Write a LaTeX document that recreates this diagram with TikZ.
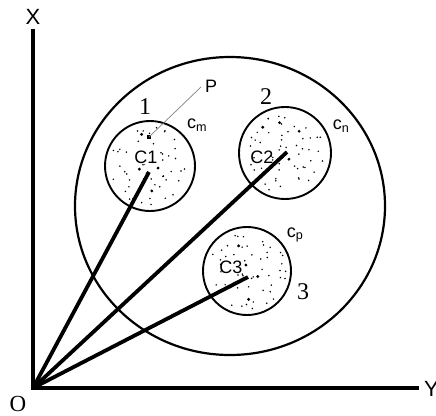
\documentclass[tikz,border=0pt]{standalone}
\usepackage{fontspec}
\setmainfont{Liberation Sans}
\newfontfamily\serifnum{Liberation Serif}
\usetikzlibrary{calc}
\begin{document}
\begin{tikzpicture}[x=1pt,y=-1pt,
  axis/.style={line width=4pt},
  ray/.style={line width=3.8pt},
  cluster/.style={line width=1.9pt},
  lbl/.style={inner sep=0pt,font=\fontsize{18}{18}\selectfont},
  numlbl/.style={inner sep=0pt,font=\serifnum\fontsize{24}{24}\selectfont},
  axlbl/.style={inner sep=0pt,font=\fontsize{22}{22}\selectfont},
  sdot/.style={fill=black,draw=none}]
\useasboundingbox (0,0) rectangle (436,415);
% axes
\coordinate (o) at (33,388);
\coordinate (xtop) at (33,31);
\coordinate (yend) at (417,388);
\draw[axis,line cap=rect] (xtop) -- (o) -- (yend);
\node[axlbl] (xl) at (33,17) {X};
\node[numlbl,font=\serifnum\fontsize{23}{23}\selectfont] (ol) at (18,404) {O};
\node[axlbl,anchor=west] (yl) at (424,389) {Y};
% big circle
\draw[line width=2.2pt] (230,206) ellipse [x radius=155, y radius=149];
% clusters
\coordinate (c1) at (150,166);
\coordinate (c2) at (285,153);
\coordinate (c3) at (247,271);
\draw[cluster] (c1) circle [radius=45];
\draw[cluster] (c2) circle [radius=46];
\draw[cluster] (c3) circle [radius=44];
% stipple dots (jittered grid)
\pgfmathsetseed{3}
\foreach \c/\R in {c1/40,c2/41,c3/39}{
  \foreach \gx in {-40,-30,...,40}{
    \foreach \gy in {-40,-30,...,40}{
      \pgfmathsetmacro\dx{\gx+7*rand}
      \pgfmathsetmacro\dy{\gy+7*rand}
      \pgfmathtruncatemacro\inside{(\dx*\dx+\dy*\dy)<(\R*\R) ? 1 : 0}
      \ifnum\inside=1
        \fill[sdot] ($(\c)+(\dx,\dy)$) circle [radius=0.85];
      \fi
    }
  }
  \foreach \i in {1,...,4}{
    \pgfmathsetmacro\rr{\R*0.85*sqrt(rnd)}
    \pgfmathsetmacro\aa{360*rnd}
    \fill[sdot] ($(\c)+(\aa:\rr)$) circle [radius=1.6];
  }
}
% rays
\coordinate (e1) at (149,172);
\coordinate (e2) at (287,152);
\coordinate (e3) at (248,277);
\draw[ray] (o) -- (e1);
\draw[ray] (o) -- (e2);
\draw[ray] (o) -- (e3);
% point P
\coordinate (p) at (149,137);
\fill (p) +(-2.4,-2.4) rectangle +(2.4,2.4);
\node[lbl] (pl) at (211,86) {P};
\coordinate (pe) at (201,87);
\draw[gray,line width=0.7pt] (p) -- (pe);
% labels
\node[lbl,fill=white,inner sep=0.5pt] (cl1) at (146,157) {C1};
\node[lbl] (cl2) at (262,157) {C2};
\node[lbl] (cl3) at (231,267) {C3};
\node[numlbl] (n1) at (145,107) {1};
\node[numlbl] (n2) at (266,97) {2};
\node[numlbl] (n3) at (303,292) {3};
\node[lbl] (cm) at (197,125) {c\textsubscript{m}};
\node[lbl] (cn) at (341,126) {c\textsubscript{n}};
\node[lbl] (cp) at (295,235) {c\textsubscript{p}};
\end{tikzpicture}
\end{document}
